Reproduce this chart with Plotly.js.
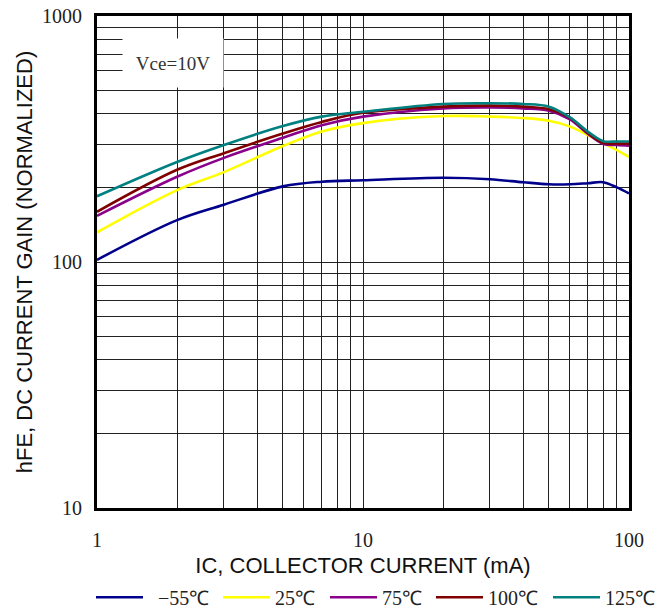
<!DOCTYPE html>
<html>
<head>
<meta charset="utf-8">
<script src="https://cdn.plot.ly/plotly-3.0.1.min.js"></script>
<style>html,body{margin:0;padding:0;background:#fff;}#chart{width:659px;height:610px;}</style>
</head>
<body>
<div id="chart"></div>
<script>
// Collector current (mA)
const ic = [1, 2, 3, 5, 7, 10, 20, 30, 40, 50, 60, 70, 80, 90, 100];
// hFE series by temperature
const hfe_m55 = [102, 148, 171, 203, 212, 215, 220, 217, 211, 207, 207, 209, 211, 201, 190];
const hfe_25  = [132, 196, 232, 296, 339, 367, 392, 390, 385, 375, 355, 328, 304, 285, 267];
const hfe_75  = [154, 222, 265, 320, 360, 390, 421, 425, 421, 412, 380, 332, 302, 299, 297];
const hfe_100 = [160, 237, 277, 333, 371, 404, 428, 432, 428, 418, 385, 335, 305, 303, 303];
const hfe_125 = [185, 255, 299, 357, 390, 408, 439, 442, 439, 428, 387, 339, 310, 309, 309];
const seriesNames = ["\u00a0\u00a0\u221255\u2103", "25\u2103", "75\u2103", "100\u2103", "125\u2103"];
const seriesColors = ["#00008B", "#FFFF00", "#8B008B", "#800000", "#008080"];

// Tick positions / labels
const xTickVals = [1,2,3,4,5,6,7,8,9,10,20,30,40,50,60,70,80,90,100];
const xTickText = ["1","","","","","","","","","10","","","","","","","","","100"];
const yTickVals = [10,20,30,40,50,60,70,80,90,100,200,300,400,500,600,700,800,900,1000];
const yTickText = ["10","","","","","","","","","100","","","","","","","","","1000"];

const serif = "Liberation Serif, Times New Roman, serif";
const sans = "Liberation Sans, Arial, sans-serif";

// one legend box per series, so each entry sits where the reference shows it
const legendIds = ["legend", "legend2", "legend3", "legend4", "legend5"];
const legendLeft = [91, 218, 325, 431, 548];

const allY = [hfe_m55, hfe_25, hfe_75, hfe_100, hfe_125];
const traces = allY.map((y, i) => ({
  x: ic, y: y, type: "scatter", mode: "lines",
  name: seriesNames[i], legend: legendIds[i],
  line: {color: seriesColors[i], width: 2.6, shape: "spline", smoothing: 1}
}));

const layout = {
  width: 659, height: 610,
  margin: {l: 97, r: 30, t: 16, b: 102},
  paper_bgcolor: "#fff", plot_bgcolor: "#fff",
  showlegend: true,
  xaxis: {
    type: "log", range: [0, 2],
    tickmode: "array", tickvals: xTickVals, ticktext: xTickText,
    ticks: "outside", ticklen: 12, tickcolor: "rgba(0,0,0,0)",
    tickfont: {family: serif, size: 20, color: "#222"},
    showgrid: true, gridcolor: "#222", gridwidth: 1,
    showline: true, mirror: true, linecolor: "#000", linewidth: 3,
    zeroline: false,
    title: {text: "IC, COLLECTOR CURRENT (mA)", font: {family: sans, size: 22, color: "#111"}}
  },
  yaxis: {
    type: "log", range: [1, 3], automargin: "left",
    tickmode: "array", tickvals: yTickVals, ticktext: yTickText,
    ticks: "outside", ticklen: 8, tickcolor: "rgba(0,0,0,0)",
    tickfont: {family: serif, size: 20, color: "#222"},
    showgrid: true, gridcolor: "#222", gridwidth: 1,
    showline: true, mirror: true, linecolor: "#000", linewidth: 3,
    zeroline: false,
    title: {text: "hFE, DC CURRENT GAIN (NORMALIZED)", font: {family: sans, size: 22, color: "#111"}, standoff: 4}
  },
  annotations: [{
    text: "Vce=10V", xref: "paper", yref: "paper",
    x: 0.142, y: 0.905, xanchor: "center", yanchor: "middle",
    showarrow: false, bgcolor: "#fff",
    borderpad: 0, width: 100, height: 48,
    font: {family: serif, size: 19, color: "#333"}
  }]
};

legendIds.forEach((id, i) => {
  layout[id] = {
    orientation: "h", xref: "container", yref: "container",
    x: legendLeft[i] / 659, y: 0.021, xanchor: "left", yanchor: "middle",
    font: {family: serif, size: 20, color: "#222"},
    itemwidth: 47, itemclick: false, bgcolor: "rgba(0,0,0,0)"
  };
});

Plotly.newPlot("chart", traces, layout, {displayModeBar: false, staticPlot: true});
</script>
</body>
</html>
